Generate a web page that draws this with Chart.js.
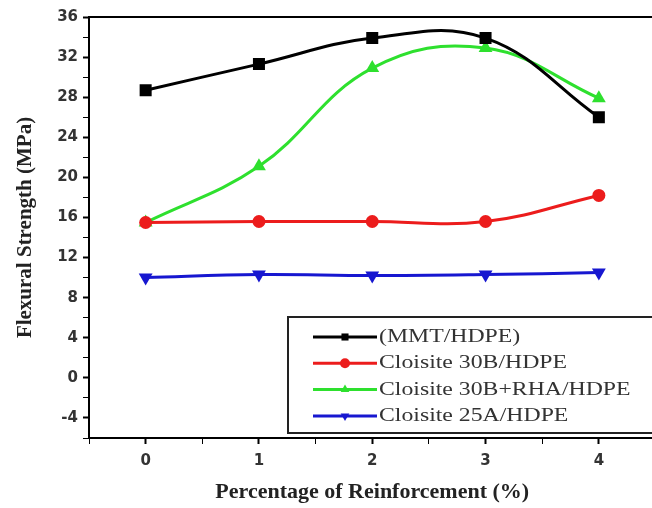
<!DOCTYPE html>
<html>
<head>
<meta charset="utf-8">
<script src="https://cdn.jsdelivr.net/npm/chart.js@4"></script>
<style>
  html, body { margin: 0; padding: 0; background: #fff; overflow: hidden; }
  #marco { width: 652px; height: 508px; overflow: hidden; }
</style>
</head>
<body>
<div id="marco"><canvas id="grafico" width="664" height="508"></canvas></div>
<script>
// Datos
const refuerzo = [0, 1, 2, 3, 4];
const mmtHdpe = [28.7, 31.3, 33.9, 33.9, 26.0];
const c30bHdpe = [15.5, 15.6, 15.6, 15.6, 18.2];
const c30bRhaHdpe = [15.5, 21.1, 30.9, 32.9, 27.9];
const c25aHdpe = [10.0, 10.3, 10.2, 10.3, 10.5];
const nombresSeries = ["(MMT/HDPE)", "Cloisite 30B/HDPE", "Cloisite 30B+RHA/HDPE", "Cloisite 25A/HDPE"];
const ticksX = [0, 1, 2, 3, 4];
const ticksY = [-4, 0, 4, 8, 12, 16, 20, 24, 28, 32, 36];

function puntos(valores) {
  return refuerzo.map((x, i) => ({ x: x, y: valores[i] }));
}

function serie(nombre, valores, color, estilo, radio, rotacion) {
  return {
    label: nombre,
    data: puntos(valores),
    borderColor: color,
    backgroundColor: color,
    borderWidth: 3,
    tension: 0.4,
    pointStyle: estilo,
    pointRadius: radio,
    pointRotation: rotacion || 0,
    pointBorderWidth: 0
  };
}

// Leyenda dibujada dentro del area del grafico
const leyendaPlugin = {
  id: "leyenda",
  afterDraw(chart) {
    const ctx = chart.ctx;
    const area = chart.chartArea;
    const x0 = area.left + 199;
    const y0 = area.top + 300;
    ctx.save();
    ctx.fillStyle = "#fff";
    ctx.fillRect(x0, y0, 420, 116);
    ctx.strokeStyle = "#222";
    ctx.lineWidth = 2;
    ctx.strokeRect(x0, y0, 420, 116);
    chart.data.datasets.forEach(function (ds, i) {
      const y = y0 + 20 + i * 26.3;
      ctx.strokeStyle = ds.borderColor;
      ctx.fillStyle = ds.borderColor;
      ctx.lineWidth = 3;
      ctx.beginPath();
      ctx.moveTo(x0 + 25, y);
      ctx.lineTo(x0 + 89, y);
      ctx.stroke();
      Chart.helpers.drawPoint(ctx, {
        pointStyle: ds.pointStyle,
        rotation: ds.pointRotation,
        radius: 5,
        borderWidth: 0
      }, x0 + 57, y);
      ctx.save();
      ctx.translate(x0 + 91, y);
      ctx.scale(1.25, 1);
      ctx.fillStyle = "#333";
      ctx.font = "19px 'Liberation Serif'";
      ctx.textBaseline = "middle";
      ctx.fillText(ds.label, 0, 0);
      ctx.restore();
    });
    ctx.restore();
  }
};

const fuenteTicks = { family: "DejaVu Sans", weight: "bold", size: 15 };
const fuenteTitulo = { family: "Liberation Serif", weight: "bold", size: 21 };

function grosorTick(lista) {
  return function (c) {
    return c.tick && lista.includes(c.tick.value) ? 2 : 1;
  };
}

const ctx = document.getElementById("grafico").getContext("2d");
new Chart(ctx, {
  type: "line",
  data: {
    datasets: [
      serie(nombresSeries[0], mmtHdpe, "#000000", "rect", 8.5),
      serie(nombresSeries[1], c30bHdpe, "#ec1c1c", "circle", 6.5),
      serie(nombresSeries[2], c30bRhaHdpe, "#2ee02e", "triangle", 8),
      serie(nombresSeries[3], c25aHdpe, "#1717d0", "triangle", 8, 180)
    ]
  },
  options: {
    responsive: false,
    animation: false,
    layout: { padding: { left: 0, right: 2, top: 0, bottom: 0 } },
    plugins: {
      legend: { display: false },
      tooltip: { enabled: false }
    },
    scales: {
      x: {
        type: "linear",
        position: "bottom",
        min: -0.5,
        max: 4.5,
        afterFit: function (s) { s.height = 70; },
        ticks: {
          stepSize: 0.5,
          autoSkip: false,
          maxRotation: 0,
          includeBounds: false,
          padding: 8,
          color: "#333",
          font: fuenteTicks,
          callback: function (v) { return ticksX.includes(v) ? v : ""; }
        },
        grid: { drawOnChartArea: false, tickLength: 6, tickColor: "#000", tickWidth: grosorTick(ticksX) },
        border: { color: "#000", width: 2 },
        title: {
          display: true,
          text: "Percentage of Reinforcement (%)",
          color: "#222",
          font: { family: "Liberation Serif", weight: "bold", size: 22 },
          padding: { top: 4, bottom: 2 }
        }
      },
      xTop: {
        type: "linear",
        position: "top",
        min: -0.5,
        max: 4.5,
        afterFit: function (s) { s.height = 17; },
        ticks: { display: false },
        grid: { display: false, drawTicks: false },
        border: { color: "#000", width: 2 }
      },
      y: {
        min: -6,
        max: 36,
        afterFit: function (s) { s.width = 89; },
        ticks: {
          stepSize: 2,
          autoSkip: false,
          padding: 5,
          color: "#333",
          font: fuenteTicks,
          callback: function (v) { return ticksY.includes(v) ? v : ""; }
        },
        grid: { drawOnChartArea: false, tickLength: 6, tickColor: "#000", tickWidth: grosorTick(ticksY) },
        border: { color: "#000", width: 2 },
        title: {
          display: true,
          text: "Flexural Strength (MPa)",
          color: "#222",
          font: fuenteTitulo,
          padding: { top: 13, bottom: 0 }
        }
      }
    }
  },
  plugins: [leyendaPlugin]
});
</script>
</body>
</html>
